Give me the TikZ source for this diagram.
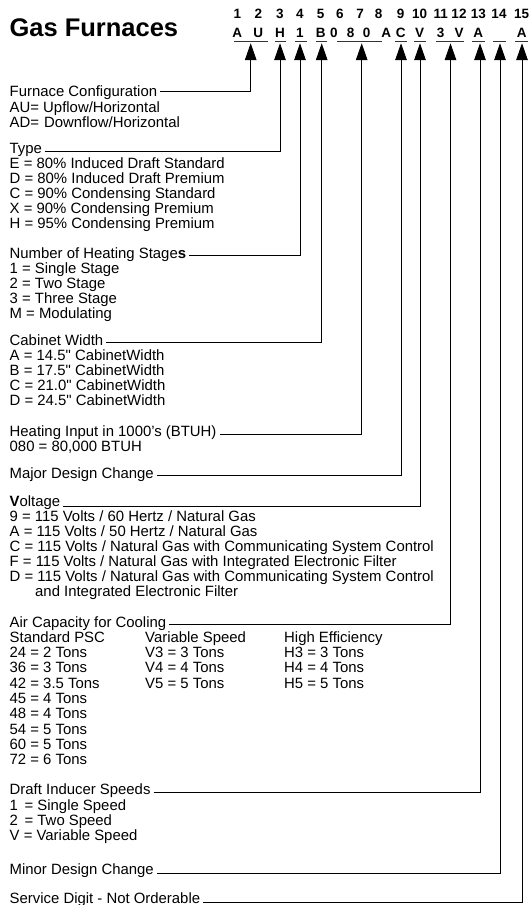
\documentclass[tikz,border=0pt]{standalone}
\usepackage{fontspec}
\setmainfont{Liberation Sans}
\usetikzlibrary{arrows.meta}

\tikzset{
	txt/.style={anchor=base west, inner sep=0pt, font=\fontsize{14.9}{15}\selectfont},
	digit/.style={anchor=base, inner sep=0pt, font=\fontsize{13.5}{14}\selectfont\bfseries},
	conn/.style={line width=0.8pt, -{Triangle[length=16.7pt,width=11.5pt]}},
	uline/.style={line width=0.9pt, black!80},
}

% name, x, first baseline, items (optional: line spacing)
\newcommand\codelist[5][15]{%
	\foreach \t [count=\i] in {#5} {
		\node[txt] (#2\i) at (#3,{#4+#1*(\i-1)}) {\t};
	}%
}

\begin{document}
\begin{tikzpicture}[x=1pt, y=-1pt]

	\useasboundingbox (0,0) rectangle (529,905);

	% ---- title

	\node[anchor=base west, inner sep=0pt, font=\fontsize{25.5}{26}\selectfont\bfseries]
		(title) at (9.3,36.7) {Gas Furnaces};

	% ---- digit positions

	\foreach \d/\x in {1/237.3,2/258.3,3/280,4/300,5/320.7,6/340,7/360,8/378.5,
		9/400.7,10/419.7,11/440.7,12/459,13/478.3,14/499,15/521.7} {
		\node[digit] (pos\d) at (\x,18.3) {\d};
	}

	% ---- model number

	\foreach \c/\x [count=\i] in {A/237.3,U/258.3,H/280,1/300,B/320.7,0/334,8/350.7,0/366.7,
		A/386.3,C/400.7,V/419.7,3/440.7,V/459,A/478.3,A/521.7} {
		\node[digit] (chr\i) at (\x,37.3) {\c};
	}

	% ---- underlines

	\foreach \a/\b in {234/268,275/286,295/307,316/327,337/382,395/407,
		414/426,436/464,472/485,493/506,515/528} {
		\draw[uline] (\a,41.7) -- (\b,41.7);
	}

	% ---- arrow tips

	\foreach \n/\x in {conf/250.7,type/280,stage/300,width/321.7,input/361.7,major/401,
		volt/420,air/450.5,draft/480,minor/500,serv/522} {
		\coordinate (tip-\n) at (\x,43.3);
	}

	% ---- fields

	\node[txt] (conf) at (9.5,96.7) {Furnace Configuration};
	\codelist{conf}{9.5}{112.5}{AU= Upflow/Horizontal, AD=\,\,Downflow/Horizontal}

	\node[txt] (type) at (9.5,153.3) {Type};
	\codelist{type}{9.5}{168.3}{E = 80\% Induced Draft Standard, D = 80\% Induced Draft Premium,
		C = 90\% Condensing Standard, X = 90\% Condensing Premium, H = 95\% Condensing Premium}

	\node[txt] (stage) at (9.5,258.3) {Number of Heating Stage\textbf{s}};
	\codelist{stage}{9.5}{273.3}{1 = Single Stage, 2 = Two Stage, 3 = Three Stage, M = Modulating}

	\node[txt] (width) at (9.5,345) {Cabinet Width};
	\codelist{width}{9.5}{360.7}{A = 14.5\textquotedbl{} CabinetWidth, B = 17.5\textquotedbl{} CabinetWidth,
		C = 21.0\textquotedbl{} CabinetWidth, D = 24.5\textquotedbl{} CabinetWidth}

	\node[txt] (input) at (9.5,436.7) {Heating Input in 1000’s (BTUH)};
	\codelist{input}{9.5}{451.7}{{080 = 80,000 BTUH}}

	\node[txt] (major) at (9.5,478.3) {Major Design Change};

	\node[txt] (volt) at (9.5,506.7) {\textbf{V}oltage};
	\codelist{volt}{9.5}{521.7}{9 = 115 Volts / 60 Hertz / Natural Gas,
		A = 115 Volts / 50 Hertz / Natural Gas,
		C = 115 Volts / Natural Gas with Communicating System Control,
		F = 115 Volts / Natural Gas with Integrated Electronic Filter,
		D = 115 Volts / Natural Gas with Communicating System Control}
	\node[txt] (volt6) at (35,596.7) {and Integrated Electronic Filter};

	\node[txt] (air) at (9.5,627.7) {Air Capacity for Cooling};
	\codelist[15.3]{psc}{9.5}{642.3}{Standard PSC, 24 = 2 Tons, 36 = 3 Tons, 42 = 3.5 Tons,
		45 = 4 Tons, 48 = 4 Tons, 54 = 5 Tons, 60 = 5 Tons, 72 = 6 Tons}
	\codelist[15.3]{vs}{145}{642.3}{Variable Speed, V3 = 3 Tons, V4 = 4 Tons, V5 = 5 Tons}
	\codelist[15.3]{he}{284}{642.3}{High Efficiency, H3 = 3 Tons, H4 = 4 Tons, H5 = 5 Tons}

	\node[txt] (draft) at (9.5,794.3) {Draft Inducer Speeds};
	\codelist{draft}{9.5}{810}{1 \,= Single Speed, 2 \,= Two Speed, V = Variable Speed}

	\node[txt] (minor) at (9.5,874.5) {Minor Design Change};

	\node[txt] (serv) at (9.5,903.8) {Service Digit - Not Orderable};

	% ---- connectors

	\foreach \n/\dy in {conf/5,type/1.6,stage/2.6,width/2.3,input/2.5,major/3,
		volt/0,air/3.5,draft/1.7,minor/1.2,serv/1.5} {
		\draw[conn] ([xshift=3pt,yshift=\dy pt]\n.base east) -| (tip-\n);
	}

\end{tikzpicture}
\end{document}
